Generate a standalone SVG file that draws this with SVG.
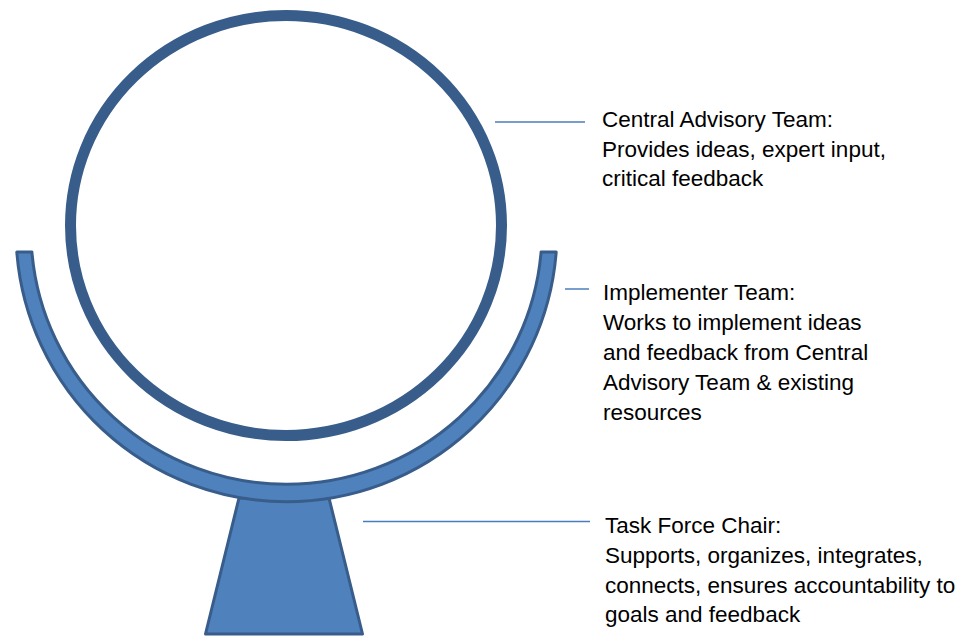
<svg xmlns="http://www.w3.org/2000/svg" width="969" height="639" viewBox="0 0 969 639">
  <style>
    .shape { fill: #4f81bd; stroke: #385d8a; stroke-width: 3; stroke-linejoin: round; }
    .ring { fill: none; stroke: #385d8a; stroke-width: 11; }
    .leader { stroke: #4a7ebb; stroke-width: 1.5; fill: none; }
    .label { font-family: "Liberation Sans", Arial, sans-serif; font-size: 22.5px; fill: #000000; }
  </style>

  <!-- stand base -->
  <g id="stand">
    <polygon class="shape" points="239,498 329,498 362.5,634 205.5,634"/>
  </g>

  <!-- cradle holding the ring -->
  <g id="cradle">
    <path class="shape" d="M16.8,252 A270.5,270.5 0 0 0 556.2,252 L541.1,252 A255.5,253.5 0 0 1 31.9,252 Z"/>
  </g>

  <!-- central ring -->
  <g id="ring">
    <ellipse class="ring" cx="286" cy="225.5" rx="215.5" ry="210"/>
  </g>

  <!-- leader lines to labels -->
  <g id="connectors">
    <line class="leader" x1="495" y1="122" x2="585" y2="122"/>
    <line class="leader" x1="565" y1="289" x2="589" y2="289"/>
    <line class="leader" x1="363" y1="521.5" x2="590" y2="521.5"/>
  </g>

  <g id="label-central">
    <text class="label" x="602" y="127">Central Advisory Team:</text>
    <text class="label" x="602" y="156.5">Provides ideas, expert input,</text>
    <text class="label" x="602" y="186">critical feedback</text>
  </g>

  <g id="label-implementer">
    <text class="label" x="603" y="299.5">Implementer Team:</text>
    <text class="label" x="603" y="330">Works to implement ideas</text>
    <text class="label" x="603" y="360">and feedback from Central</text>
    <text class="label" x="603" y="390">Advisory Team &amp; existing</text>
    <text class="label" x="603" y="420">resources</text>
  </g>

  <g id="label-chair">
    <text class="label" x="605" y="533">Task Force Chair:</text>
    <text class="label" x="605" y="563">Supports, organizes, integrates,</text>
    <text class="label" x="605" y="592.5">connects, ensures accountability to</text>
    <text class="label" x="605" y="622">goals and feedback</text>
  </g>
</svg>
